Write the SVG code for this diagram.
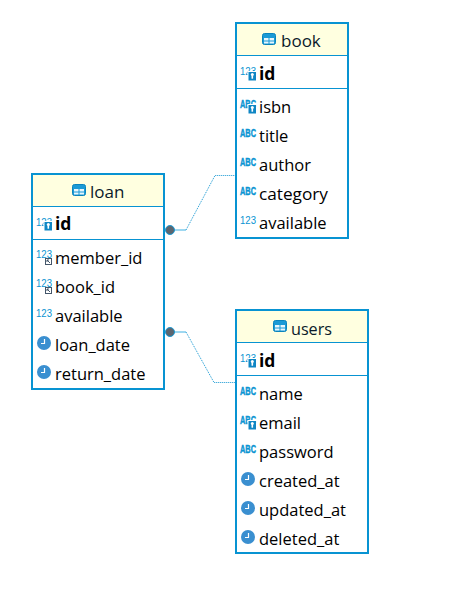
<svg xmlns="http://www.w3.org/2000/svg" width="454" height="604" viewBox="0 0 454 604">
<style>
.bg{fill:#fff}
.box{fill:#fff;stroke:#0893d2;stroke-width:2}
.head{fill:#ffffe0}
.sep{stroke:#0893d2;stroke-width:1;fill:none}
.t{font-family:"Open Sans","Noto Sans",sans-serif;font-size:16.5px;fill:#000}
.b{font-weight:700;font-size:17.5px}
.ti{font-family:"Open Sans","Noto Sans",sans-serif;font-size:17px;fill:#0a1a2a}
.i{font-family:"Liberation Sans",sans-serif;font-size:11px;fill:#0a94d2}
.ib{font-weight:700;font-size:10px;stroke:#0a94d2;stroke-width:0.4}
.dot{fill:none;stroke:#1296d2;stroke-width:1;stroke-dasharray:1 1}
.sol{fill:none;stroke:#7ecbec;stroke-width:1.5}
.end{fill:#5c6670;stroke:#1a9ad6;stroke-width:1}
</style>
<defs>
<g id="tbl"><rect x="0.5" y="0.5" width="13" height="11" rx="2" fill="#1b9ad6" stroke="#0a84bd"/><rect x="2" y="5" width="4.5" height="2.5" fill="#e8f6fd"/><rect x="7.5" y="5" width="4.5" height="2.5" fill="#e8f6fd"/><rect x="2" y="8.5" width="4.5" height="2" fill="#e8f6fd"/><rect x="7.500" y="8.500" width="4.500" height="2" fill="#e8f6fd"/></g>
<g id="n"><text class="i" x="0" y="3" textLength="16" lengthAdjust="spacingAndGlyphs">123</text></g>
<g id="a"><text class="i ib" x="0" y="2.500" textLength="16" lengthAdjust="spacingAndGlyphs">ABC</text></g>
<g id="k"><rect x="7.500" y="-2" width="9" height="10" fill="#fff"/><rect x="8.500" y="-1" width="7.500" height="8.500" fill="#0f86c4"/><circle cx="12.300" cy="1.500" r="1.500" fill="#fff"/><rect x="11.500" y="2.500" width="1.600" height="3.200" fill="#fff"/></g>
<g id="f"><rect x="9.500" y="1.500" width="6" height="6" fill="#fff" stroke="#44566a"/><path d="M11 3 L14 6 M11 3 H13 M11 3 V5" stroke="#44566a" fill="none"/></g>
<g id="c"><circle cx="7" cy="0" r="7" fill="#3a8fd0"/><path d="M7.500 -4 V0.500 H4" fill="none" stroke="#fff" stroke-width="1.200"/></g>
</defs>
<rect class="bg" width="454" height="604"/>
<g id="connectors">
<path class="sol" d="M170 230 H186"/>
<path class="dot" d="M186 230 L215 175.500 H236"/>
<path class="sol" d="M170 332 H186"/>
<path class="dot" d="M186 332 L214 382.500 H236"/>
<circle class="end" cx="170" cy="230" r="4.500"/>
<circle class="end" cx="170" cy="332" r="4.500"/>
</g>
<g id="book">
<rect class="box" x="236" y="23" width="112" height="215"/>
<rect class="head" x="237" y="24" width="110" height="31"/>
<path class="sep" d="M237 55.500 H347 M237 88.500 H347"/>
<use href="#tbl" x="262" y="33"/><text class="ti" x="281" y="47">book</text>
<use href="#n" x="240" y="72"/><use href="#k" x="240" y="73"/><text class="t b" x="259" y="80">id</text>
<use href="#a" x="240" y="105.500"/><use href="#k" x="240" y="106"/><text class="t" x="259" y="113">isbn</text>
<use href="#a" x="240" y="134.500"/><text class="t" x="259" y="142">title</text>
<use href="#a" x="240" y="163.500"/><text class="t" x="259" y="171">author</text>
<use href="#a" x="240" y="192.500"/><text class="t" x="259" y="200" textLength="69" lengthAdjust="spacingAndGlyphs">category</text>
<use href="#n" x="240" y="221"/><text class="t" x="259" y="229">available</text>
</g>
<g id="loan">
<rect class="box" x="32" y="174" width="132" height="215"/>
<rect class="head" x="33" y="175" width="130" height="31"/>
<path class="sep" d="M33 206.500 H163 M33 239.500 H163"/>
<use href="#tbl" x="72" y="184"/><text class="ti" x="90" y="198">loan</text>
<use href="#n" x="36" y="223"/><use href="#k" x="36" y="223"/><text class="t b" x="55" y="230">id</text>
<use href="#n" x="36" y="255"/><use href="#f" x="36" y="257"/><text class="t" x="55" y="264">member_id</text>
<use href="#n" x="36" y="284"/><use href="#f" x="36" y="286"/><text class="t" x="55" y="293">book_id</text>
<use href="#n" x="36" y="314"/><text class="t" x="55" y="322">available</text>
<use href="#c" x="37" y="343"/><text class="t" x="55" y="351">loan_date</text>
<use href="#c" x="37" y="372"/><text class="t" x="55" y="380">return_date</text>
</g>
<g id="users">
<rect class="box" x="236" y="310" width="132" height="243"/>
<rect class="head" x="237" y="311" width="130" height="31"/>
<path class="sep" d="M237 342.500 H367 M237 375.500 H367"/>
<use href="#tbl" x="273" y="320"/><text class="ti" x="291" y="335" textLength="41" lengthAdjust="spacingAndGlyphs">users</text>
<use href="#n" x="240" y="359"/><use href="#k" x="240" y="360"/><text class="t b" x="259" y="367">id</text>
<use href="#a" x="240" y="392"/><text class="t" x="259" y="400">name</text>
<use href="#a" x="240" y="421"/><use href="#k" x="240" y="422"/><text class="t" x="259" y="429">email</text>
<use href="#a" x="240" y="450"/><text class="t" x="259" y="458">password</text>
<use href="#c" x="241" y="479"/><text class="t" x="259" y="487">created_at</text>
<use href="#c" x="241" y="508"/><text class="t" x="259" y="516">updated_at</text>
<use href="#c" x="241" y="537"/><text class="t" x="259" y="545">deleted_at</text>
</g>
</svg>
